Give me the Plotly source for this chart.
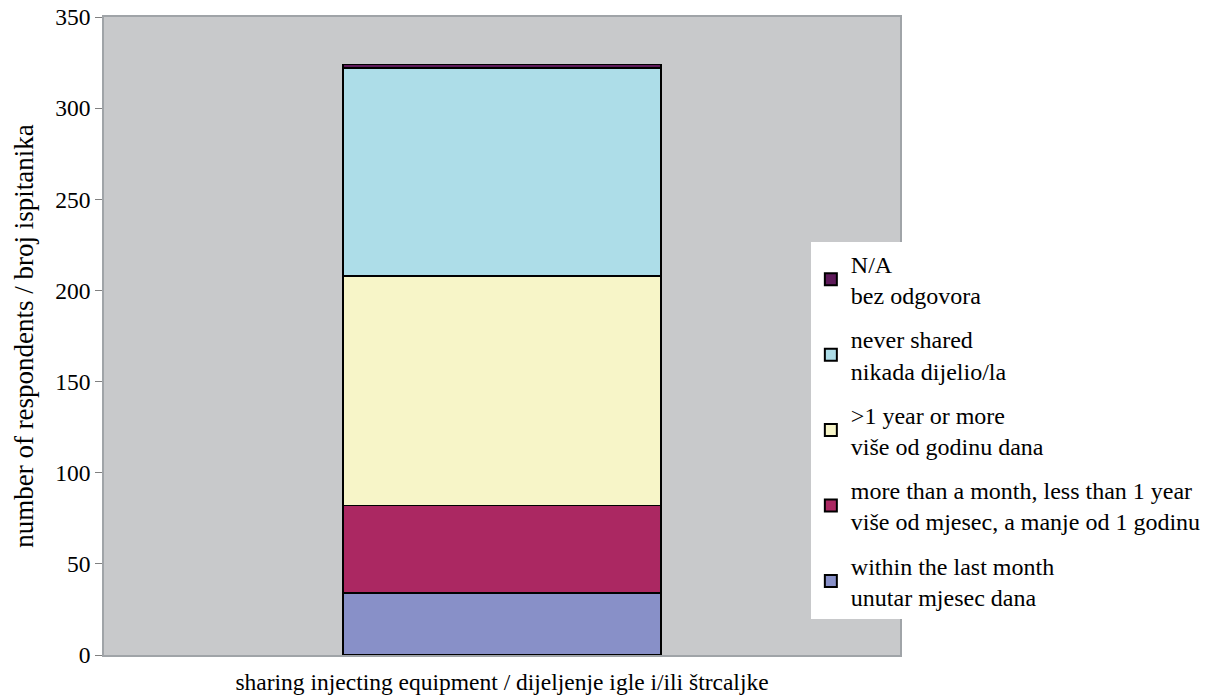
import plotly.graph_objects as go

categories = ["sharing injecting equipment / dijeljenje igle i/ili štrcaljke"]
series_names = [
    "within the last month<br>unutar mjesec dana",
    "more than a month, less than 1 year<br>više od mjesec, a manje od 1 godinu",
    ">1 year or more<br>više od godinu dana",
    "never shared<br>nikada dijelio/la",
    "N/A<br>bez odgovora",
]
series_values = [[34], [48], [126], [114], [2]]
colors = ["#8890c8", "#ab2862", "#f7f5c8", "#addde8", "#5e1a5a"]
y_ticks = [0, 50, 100, 150, 200, 250, 300, 350]

fig = go.Figure()
for i, (name, vals, col) in enumerate(zip(series_names, series_values, colors)):
    fig.add_trace(go.Bar(
        x=categories, y=vals, name=name, legendgroup=f"g{i}",
        legendrank=1000 - 10 * i,
        marker=dict(color=col, line=dict(color="#000000", width=1.5)),
        width=0.4,
    ))

fig.update_layout(
    barmode="stack",
    width=1219, height=696,
    margin=dict(l=104, r=319, t=17, b=41),
    paper_bgcolor="#ffffff",
    plot_bgcolor="#c8c9cb",
    font=dict(family="Liberation Serif", size=23, color="#000000"),
    legend=dict(
        traceorder="grouped",
        x=0.888, xanchor="left", y=0.648, yanchor="top",
        bgcolor="#ffffff",
        font=dict(family="Liberation Serif", size=24, color="#000000"),
        tracegroupgap=10,
        itemsizing="constant",
    ),
    showlegend=True,
)
fig.update_yaxes(
    range=[0, 350], tickvals=y_ticks, showgrid=False,
    ticks="outside", ticklen=7, tickcolor="#808080",
    showline=True, linecolor="#a0a4a8", linewidth=1.5,
    tickfont=dict(size=23.5),
    title=dict(text="number of respondents / broj ispitanika", font=dict(size=27), standoff=14),
    mirror=True, zeroline=False, automargin=False,
)
fig.update_xaxes(
    showgrid=False, ticks="", showline=True, linecolor="#a0a4a8", linewidth=1.5,
    mirror=True, tickfont=dict(size=23.5), automargin=False, ticklabelstandoff=5,
)
fig.write_html("out.html")
